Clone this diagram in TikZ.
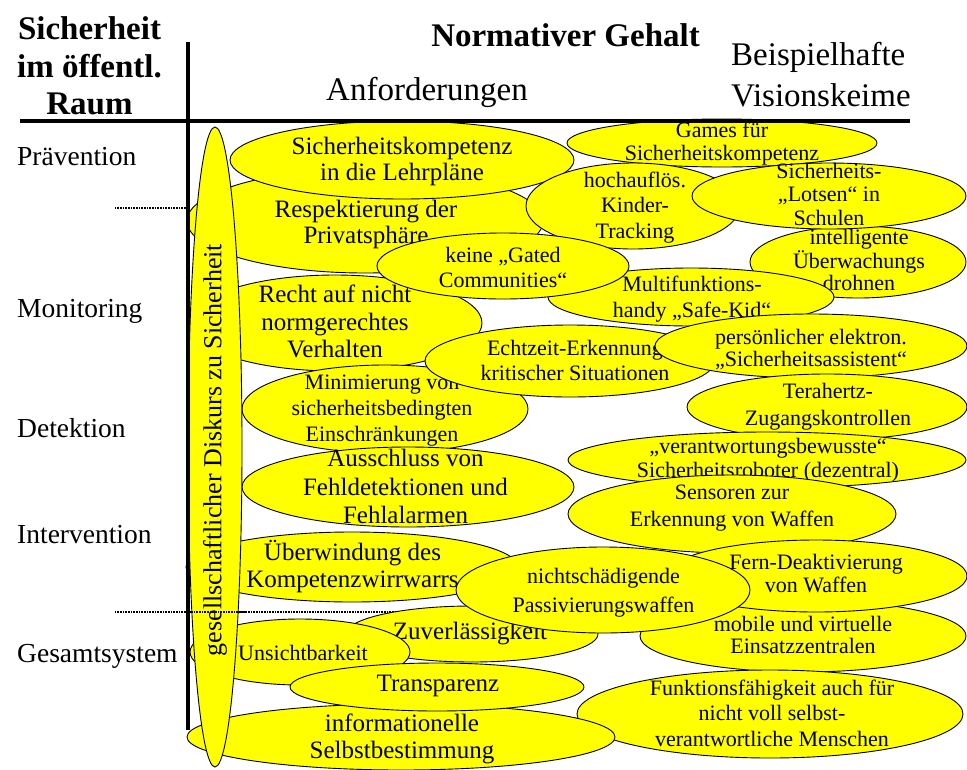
\documentclass[tikz,border=0pt]{standalone}
\usepackage{fontspec}
\setmainfont{Liberation Serif}
\usetikzlibrary{shapes.geometric}
\definecolor{yel}{RGB}{255,255,0}
\newcommand{\fsz}[2]{\fontsize{#1}{#2}\selectfont}
\newcommand{\blobat}[5]{\node[blob, minimum width=#4*2pt, minimum height=#5*2pt] (#1) at (#2,#3) {};}
\begin{document}
\begin{tikzpicture}[x=1pt,y=-1pt,
  blob/.style={ellipse, draw=black, fill=yel, line width=0.9pt, inner sep=0pt},
  txt/.style={align=center, inner sep=0pt, text=black},
  hdr/.style={inner sep=0pt, font=\fsz{33}{37}\bfseries},
  hdrn/.style={inner sep=0pt, font=\fsz{33}{37}},
  rowlbl/.style={inner sep=0pt, anchor=base west, font=\fsz{27.5}{30}},
  axis/.style={line width=4pt, line cap=butt},
  sep/.style={line width=1.5pt, dash pattern=on 1pt off 0.6pt}]
\useasboundingbox (0,0) rectangle (967,769);

% headers
\node[hdr, anchor=base] (h1) at (89.5,39) {Sicherheit};
\node[hdr, anchor=base] (h2) at (89.5,77) {im öffentl.};
\node[hdr, anchor=base] (h3) at (89.5,114) {Raum};
\node[hdr, anchor=base] (h4) at (565.5,46) {Normativer Gehalt};
\node[hdrn, anchor=base] (h5) at (427,100) {Anforderungen};
\node[hdrn, anchor=base west] (h6) at (731,65.7) {Beispielhafte};
\node[hdrn, anchor=base west] (h7) at (731,106.7) {Visionskeime};

% row labels
\node[rowlbl] (r1) at (17,165) {Prävention};
\node[rowlbl] (r2) at (17,317) {Monitoring};
\node[rowlbl] (r3) at (17,437) {Detektion};
\node[rowlbl] (r4) at (17,543) {Intervention};
\node[rowlbl] (r5) at (17,662) {Gesamtsystem};

% separators (under ellipses)
\coordinate (s1a) at (115,208); \coordinate (s1b) at (190,208);
\coordinate (s2a) at (115,612); \coordinate (s2b) at (460,612);
\draw[sep] (s1a) -- (s1b);
\draw[sep] (s2a) -- (s2b);

% ellipses with texts
\blobat{e5}{365}{221}{178}{52}
\node[txt, font=\fsz{25}{26}] (t5) at (366,224.4) {Respektierung der\\Privatsphäre};

\blobat{e1}{402}{160}{172}{39}
\node[txt, font=\fsz{25}{26}] (t1) at (402,161) {Sicherheitskompetenz\\in die Lehrpläne};

\blobat{e2}{722}{143}{155}{24}
\node[txt, font=\fsz{22}{23}] (t2) at (722,143.5) {Games für\\Sicherheitskompetenz};

\blobat{e3}{633}{206}{107}{43}
\node[txt, font=\fsz{22}{25.5}] (t3) at (635,207.5) {hochauflös.\\Kinder-\\Tracking};

\blobat{e6}{858}{262}{108}{36}
\node[txt, font=\fsz{22}{22.5}] (t6) at (859,260) {intelligente\\Überwachungs\\drohnen};

\blobat{e4}{829}{196}{137}{33}
\node[txt, font=\fsz{22}{23.5}] (t4) at (829,194) {Sicherheits-\\„Lotsen“ in\\Schulen};

\blobat{e9}{335}{323}{147}{48}
\node[txt, font=\fsz{25}{27.5}] (t9) at (335,321.5) {Recht auf nicht\\normgerechtes\\Verhalten};

\blobat{e8}{691}{297}{143}{29}
\node[txt, font=\fsz{22}{26}] (t8) at (692,299) {Multifunktions-\\handy „Safe-Kid“};

\blobat{e7}{503}{266}{126}{33}
\node[txt, font=\fsz{22}{25}] (t7) at (503,267) {keine „Gated\\Communities“};

\blobat{e12}{385}{409}{143}{44}
\node[txt, font=\fsz{22}{26}] (t12) at (382,411) {Minimierung von\\sicherheitsbedingten\\Einschränkungen};

\blobat{e10}{570}{361}{145}{36}
\node[txt, font=\fsz{22}{25}] (t10) at (575,360) {Echtzeit-Erkennung\\kritischer Situationen};

\blobat{e11}{811}{346}{156}{32}
\node[txt, font=\fsz{22}{22}] (t11) at (811,350) {persönlicher elektron.\\„Sicherheitsassistent“};

\blobat{e13}{827}{407}{140}{33}
\node[txt, font=\fsz{22}{27}] (t13) at (828,406.5) {Terahertz-\\Zugangskontrollen};

\blobat{e14}{408}{487}{166}{40}
\node[txt, font=\fsz{25}{28.5}] (t14) at (405.5,486.5) {Ausschluss von\\Fehldetektionen und\\Fehlalarmen};

\blobat{e15}{767}{460}{199}{28}
\node[txt, font=\fsz{22}{24}] (t15) at (768,460) {„verantwortungsbewusste“\\Sicherheitsroboter (dezentral)};

\blobat{e16}{732}{514}{164}{39}
\node[txt, font=\fsz{22}{27}] (t16) at (732,508.5) {Sensoren zur\\Erkennung von Waffen};

\blobat{e17}{352}{567}{166}{35}
\node[txt, font=\fsz{25}{27}] (t17) at (352.5,566.5) {Überwindung des\\Kompetenzwirrwarrs};

\blobat{e20}{803}{636}{163}{36}
\node[txt, font=\fsz{22}{22}] (t20) at (803,634.5) {mobile und virtuelle\\Einsatzzentralen};

\blobat{e18}{816}{576}{151}{36}
\node[txt, font=\fsz{22}{23}] (t18) at (816,574) {Fern-Deaktivierung\\von Waffen};

\blobat{e21}{472}{634}{126}{28}
\node[txt, font=\fsz{25}{27}] (t21) at (470,634) {Zuverlässigkeit};

\blobat{e19}{603}{590}{147}{43}
\node[txt, font=\fsz{22}{29}] (t19) at (603.5,592.5) {nichtschädigende\\Passivierungswaffen};

\blobat{e22}{300}{652}{110}{33}
\node[txt, font=\fsz{22}{25}] (t22) at (303,652.5) {Unsichtbarkeit};

\blobat{e24}{770}{714}{193}{44}
\node[txt, font=\fsz{22}{25.5}] (t24) at (772,713) {Funktionsfähigkeit auch für\\nicht voll selbst-\\verantwortliche Menschen};

\blobat{e25}{401}{737}{214}{33}
\node[txt, font=\fsz{25}{27}] (t25) at (402,738.5) {informationelle\\Selbstbestimmung};

\blobat{e23}{437}{687}{147}{24}
\node[txt, font=\fsz{25}{27}] (t23) at (438,686) {Transparenz};

% vertical ellipse
\blobat{ev}{215}{447}{27}{320}
\node[txt, font=\fsz{26}{30}, rotate=90] (tv) at (215,450) {gesellschaftlicher Diskurs zu Sicherheit};

% separator overlay across the vertical ellipse
\coordinate (s3a) at (186,612); \coordinate (s3b) at (244,612);
\draw[sep] (s3a) -- (s3b);

% axes
\coordinate (ha) at (20,121); \coordinate (hb) at (910,121);
\coordinate (va) at (188,42); \coordinate (vb) at (188,730);
\draw[axis] (ha) -- (hb);
\draw[axis] (va) -- (vb);
\end{tikzpicture}
\end{document}
